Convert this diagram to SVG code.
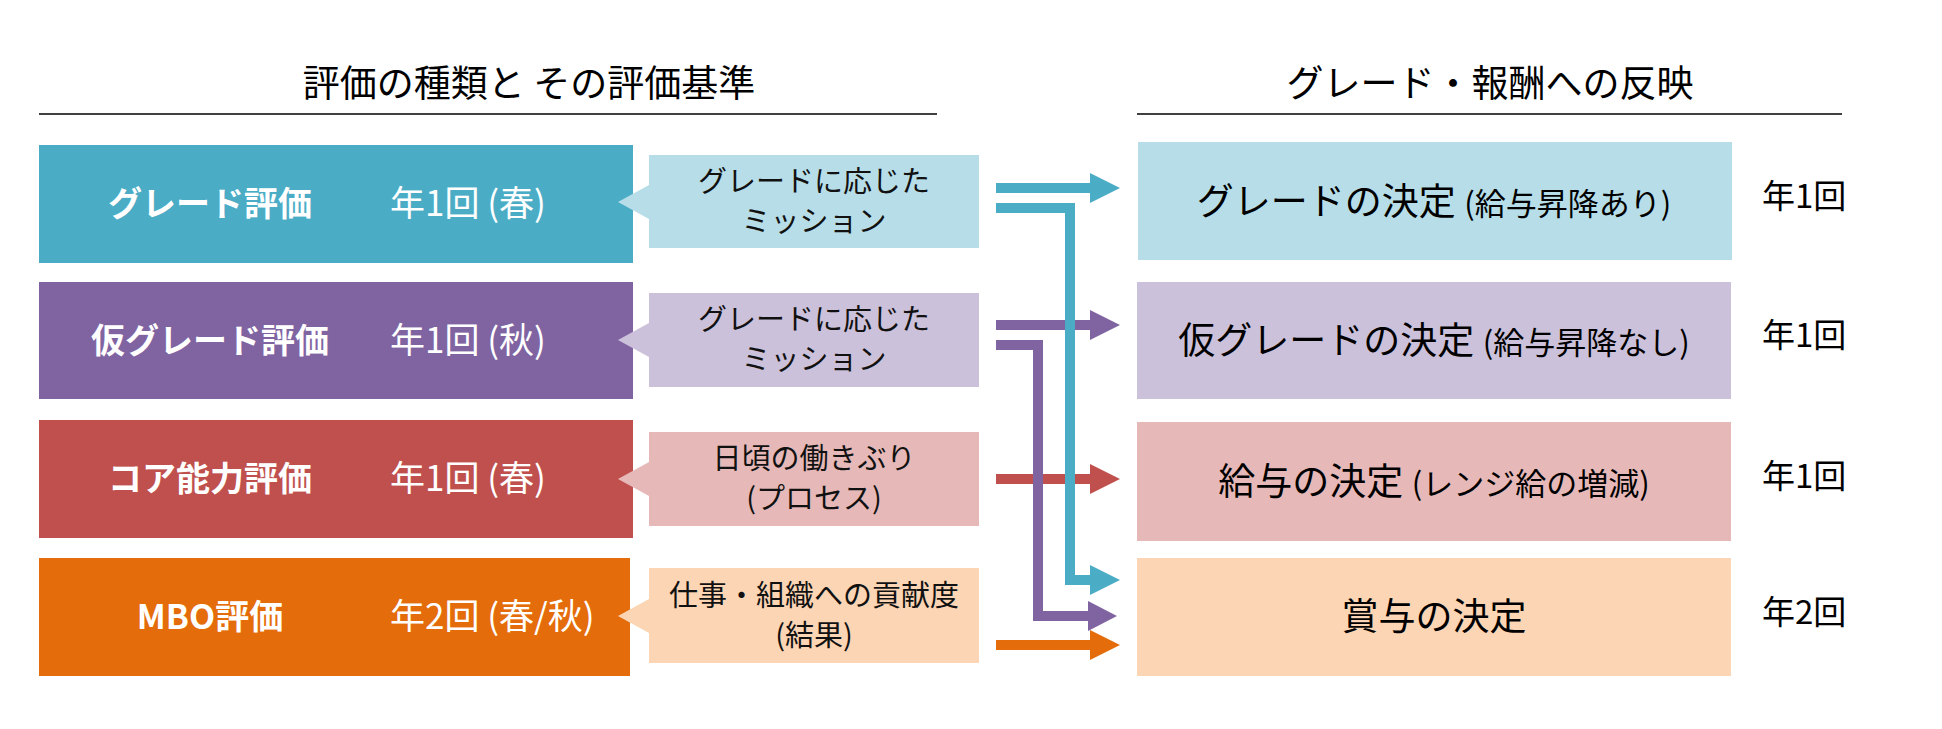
<svg xmlns="http://www.w3.org/2000/svg" width="1942" height="729" viewBox="0 0 1942 729">
<style>
text{font-family:"Noto Sans CJK JP","Noto Sans",sans-serif;}
.title{font-size:37px;fill:#000;text-anchor:middle;}
.lbl{font-size:34px;font-weight:bold;fill:#fff;text-anchor:middle;}
.freq{font-size:35px;fill:#fff;}
.co{font-size:29px;fill:#111;text-anchor:middle;}
.res{font-size:37px;fill:#000;text-anchor:middle;}
.sub{font-size:31px;}
.yr{font-size:33px;fill:#000;}
.ln{fill:none;stroke-width:10;stroke-linejoin:miter;stroke-linecap:butt;}
</style>
<rect width="1942" height="729" fill="#fff"/>
<g id="headers">
<text class="title" x="529" y="97">評価の種類と その評価基準</text>
<line x1="39" y1="114" x2="937" y2="114" stroke="#000" stroke-width="1.5"/>
<text class="title" x="1490" y="97">グレード・報酬への反映</text>
<line x1="1137" y1="114" x2="1842" y2="114" stroke="#000" stroke-width="1.5"/>
</g>
<g id="eval-grade">
<rect x="39" y="145" width="594" height="118" fill="#4BACC6"/>
<text class="lbl" x="210" y="216">グレード評価</text>
<text class="freq" x="390" y="216">年1回 (春)</text>
</g>
<g id="eval-kari">
<rect x="39" y="282" width="594" height="117" fill="#8064A2"/>
<text class="lbl" x="210" y="353">仮グレード評価</text>
<text class="freq" x="390" y="353">年1回 (秋)</text>
</g>
<g id="eval-core">
<rect x="39" y="420" width="594" height="118" fill="#C0504D"/>
<text class="lbl" x="210" y="491">コア能力評価</text>
<text class="freq" x="390" y="491">年1回 (春)</text>
</g>
<g id="eval-mbo">
<rect x="39" y="558" width="591" height="118" fill="#E46C0A"/>
<text class="lbl" x="210" y="629">MBO評価</text>
<text class="freq" x="390" y="629">年2回 (春/秋)</text>
</g>
<g id="crit-grade">
<path d="M649,155 H979 V248 H649 V219 L618,202 L649,185 Z" fill="#B7DEE8"/>
<text class="co" x="814" y="192">グレードに応じた</text>
<text class="co" x="814" y="232">ミッション</text>
</g>
<g id="crit-kari">
<path d="M649,293 H979 V387 H649 V357 L618,340 L649,323 Z" fill="#CCC1DA"/>
<text class="co" x="814" y="330">グレードに応じた</text>
<text class="co" x="814" y="370">ミッション</text>
</g>
<g id="crit-core">
<path d="M649,432 H979 V526 H649 V496 L618,479 L649,462 Z" fill="#E6B9B8"/>
<text class="co" x="814" y="469">日頃の働きぶり</text>
<text class="co" x="814" y="509">(プロセス)</text>
</g>
<g id="crit-mbo">
<path d="M649,568 H979 V663 H649 V633 L618,616 L649,599 Z" fill="#FCD5B5"/>
<text class="co" x="814" y="606">仕事・組織への貢献度</text>
<text class="co" x="814" y="646">(結果)</text>
</g>
<g id="res-grade">
<rect x="1138" y="142" width="594" height="118" fill="#B7DEE8"/>
<text class="res" x="1434" y="215">グレードの決定 <tspan class="sub">(給与昇降あり)</tspan></text>
<text class="yr" x="1762" y="208">年1回</text>
</g>
<g id="res-kari">
<rect x="1137" y="282" width="594" height="117" fill="#CCC1DA"/>
<text class="res" x="1434" y="354">仮グレードの決定 <tspan class="sub">(給与昇降なし)</tspan></text>
<text class="yr" x="1762" y="347">年1回</text>
</g>
<g id="res-salary">
<rect x="1137" y="422" width="594" height="119" fill="#E6B9B8"/>
<text class="res" x="1434" y="495">給与の決定 <tspan class="sub">(レンジ給の増減)</tspan></text>
<text class="yr" x="1762" y="488">年1回</text>
</g>
<g id="res-bonus">
<rect x="1137" y="558" width="594" height="118" fill="#FCD5B5"/>
<text class="res" x="1434" y="630">賞与の決定</text>
<text class="yr" x="1762" y="624">年2回</text>
</g>
<g id="connectors">
<path class="ln" stroke="#C0504D" d="M996,479 H1091"/>
<polygon fill="#C0504D" points="1090,464 1120,479 1090,494"/>
<path class="ln" stroke="#E46C0A" d="M996,645 H1091"/>
<polygon fill="#E46C0A" points="1090,630 1120,645 1090,660"/>
<path class="ln" stroke="#8064A2" d="M996,325 H1091"/>
<polygon fill="#8064A2" points="1090,310 1120,325 1090,340"/>
<path class="ln" stroke="#8064A2" d="M996,345 H1038 V616 H1089"/>
<polygon fill="#8064A2" points="1088,601 1117,616 1088,631"/>
<path class="ln" stroke="#4BACC6" d="M996,188 H1091"/>
<polygon fill="#4BACC6" points="1090,173 1120,188 1090,203"/>
<path class="ln" stroke="#4BACC6" d="M996,208 H1070 V580 H1091"/>
<polygon fill="#4BACC6" points="1090,565 1120,580 1090,595"/>
</g>
</svg>
